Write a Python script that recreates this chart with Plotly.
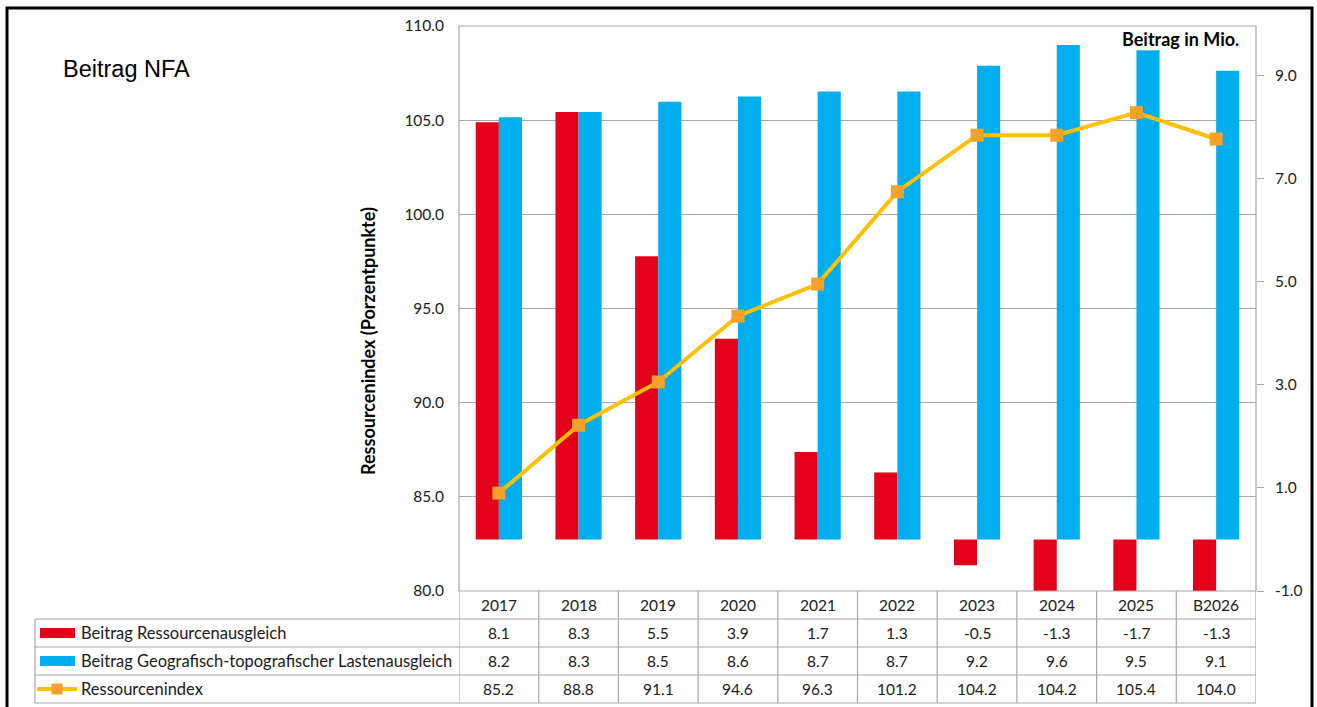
import plotly.graph_objects as go

# ---------------- data ----------------
years = ["2017", "2018", "2019", "2020", "2021", "2022", "2023", "2024", "2025", "B2026"]
ressourcenausgleich = [8.1, 8.3, 5.5, 3.9, 1.7, 1.3, -0.5, -1.3, -1.7, -1.3]
lastenausgleich = [8.2, 8.3, 8.5, 8.6, 8.7, 8.7, 9.2, 9.6, 9.5, 9.1]
ressourcenindex = [85.2, 88.8, 91.1, 94.6, 96.3, 101.2, 104.2, 104.2, 105.4, 104.0]
left_ticks = [80, 85, 90, 95, 100, 105, 110]
right_ticks = [-1, 1, 3, 5, 7, 9]
series_names = ["Beitrag Ressourcenausgleich",
                "Beitrag Geografisch-topografischer Lastenausgleich",
                "Ressourcenindex"]
chart_title = "Beitrag NFA"
left_title = "Ressourcenindex (Porzentpunkte)"
right_title = "Beitrag in Mio."

# ---------------- style ----------------
W, H = 1317, 707
L, R, T, B = 459, 1256, 26, 591
RED = "#E2001A"
BLUE = "#00AEEF"
LINE = "#FFC000"
MARK = "#F7A12B"
GRID = "#A6A6A6"
TXT = "#1a1a1a"
FONT = "Lato"
FS = 15.5


def px(X):
    return (X - L) / (R - L)


def py(Y):
    return (B - Y) / (B - T)


fig = go.Figure()
# bars on primary axis (right side), line on overlaying axis (left side) so it is drawn on top
fig.add_trace(go.Bar(x=years, y=ressourcenausgleich, name=series_names[0],
                     marker=dict(color=RED, line=dict(width=0)), yaxis="y"))
fig.add_trace(go.Bar(x=years, y=lastenausgleich, name=series_names[1],
                     marker=dict(color=BLUE, line=dict(width=0)), yaxis="y"))
fig.add_trace(go.Scatter(x=years, y=ressourcenindex, name=series_names[2],
                         mode="lines+markers", yaxis="y2",
                         line=dict(color=LINE, width=4),
                         marker=dict(symbol="square", size=13, color=MARK)))

shapes = []
annotations = []

# outer black frame
shapes.append(dict(type="rect", xref="paper", yref="paper",
                   x0=px(7), x1=px(1312), y0=py(720), y1=py(8),
                   line=dict(color="black", width=3), layer="above"))
# plot area border
shapes.append(dict(type="rect", xref="paper", yref="paper",
                   x0=0, x1=1, y0=0, y1=1,
                   line=dict(color=GRID, width=1.2), layer="above"))

# data table grid
row_lines = [619, 647, 675, 703]
for Y in row_lines:
    shapes.append(dict(type="line", xref="paper", yref="paper",
                       x0=px(35), x1=1, y0=py(Y), y1=py(Y),
                       line=dict(color=GRID, width=1.2), layer="above"))
shapes.append(dict(type="line", xref="paper", yref="paper",
                   x0=px(35), x1=px(35), y0=py(619), y1=py(703),
                   line=dict(color=GRID, width=1.2), layer="above"))
for i in range(len(years) + 1):
    shapes.append(dict(type="line", xref="x", yref="paper",
                       x0=i - 0.5, x1=i - 0.5, y0=py(591), y1=py(703),
                       line=dict(color=GRID, width=1.2), layer="above"))

# legend keys in table
shapes.append(dict(type="rect", xref="paper", yref="paper",
                   x0=px(40), x1=px(75), y0=py(638), y1=py(628),
                   fillcolor=RED, line=dict(width=0), layer="above"))
shapes.append(dict(type="rect", xref="paper", yref="paper",
                   x0=px(40), x1=px(75), y0=py(666), y1=py(656),
                   fillcolor=BLUE, line=dict(width=0), layer="above"))
shapes.append(dict(type="line", xref="paper", yref="paper",
                   x0=px(37), x1=px(77), y0=py(689), y1=py(689),
                   line=dict(color=LINE, width=4), layer="above"))
shapes.append(dict(type="rect", xref="paper", yref="paper",
                   x0=px(51.5), x1=px(62.5), y0=py(694.5), y1=py(683.5),
                   fillcolor=MARK, line=dict(width=0), layer="above"))

row_centers = [633, 661, 689]
for name, Yc in zip(series_names, row_centers):
    annotations.append(dict(text=name, xref="paper", yref="paper",
                            x=px(79), y=py(Yc), xanchor="left", yanchor="middle",
                            showarrow=False, font=dict(family=FONT, size=16.5, color=TXT)))

rows = [ressourcenausgleich, lastenausgleich, ressourcenindex]
for i, yr in enumerate(years):
    annotations.append(dict(text=yr, xref="x", yref="paper", x=i, y=py(605),
                            xanchor="center", yanchor="middle", showarrow=False,
                            font=dict(family=FONT, size=FS, color=TXT)))
    for vals, Yc in zip(rows, row_centers):
        annotations.append(dict(text=f"{vals[i]:.1f}", xref="x", yref="paper",
                                x=i, y=py(Yc), xanchor="center", yanchor="middle",
                                showarrow=False,
                                font=dict(family=FONT, size=FS, color=TXT)))

# titles
annotations.append(dict(text=chart_title, xref="paper", yref="paper",
                        x=px(61), y=py(69), xanchor="left", yanchor="middle",
                        showarrow=False,
                        font=dict(family="Liberation Sans", size=23.5, color="black")))
annotations.append(dict(text=f"<b>{right_title}</b>", xref="paper", yref="paper",
                        x=px(1241), y=py(39), xanchor="right", yanchor="middle",
                        showarrow=False, font=dict(family=FONT, size=18, color="black")))
annotations.append(dict(text=f"<b>{left_title}</b>", xref="paper", yref="paper",
                        x=px(368), y=py(341), xanchor="center", yanchor="middle",
                        textangle=-90, showarrow=False,
                        font=dict(family=FONT, size=18, color="black")))

fig.update_layout(
    width=W, height=H,
    margin=dict(l=L, r=W - R, t=T, b=H - B, pad=0),
    paper_bgcolor="white", plot_bgcolor="white",
    showlegend=False,
    barmode="group", bargap=0.42, bargroupgap=0,
    font=dict(family=FONT, size=FS, color=TXT),
    xaxis=dict(type="category", range=[-0.5, len(years) - 0.5],
               showticklabels=False, showgrid=False, showline=False,
               zeroline=False, ticks=""),
    yaxis=dict(range=[-1, 9.97], side="right",
               tickvals=right_ticks, ticktext=[f"{v:.1f}" for v in right_ticks],
               showgrid=False, zeroline=False, showline=False,
               ticks="outside", ticklen=7, tickcolor=GRID, tickwidth=1,
               ticklabelstandoff=8,
               tickfont=dict(family=FONT, size=FS, color=TXT)),
    yaxis2=dict(range=[80, 110], overlaying="y", side="left",
                tickvals=left_ticks, ticktext=[f"{v:.1f}" for v in left_ticks],
                showgrid=True, gridcolor=GRID, gridwidth=1,
                zeroline=False, showline=False, ticks="",
                ticklabelstandoff=14,
                tickfont=dict(family=FONT, size=FS, color=TXT)),
    shapes=shapes,
    annotations=annotations,
)

fig.write_html("out.html")
